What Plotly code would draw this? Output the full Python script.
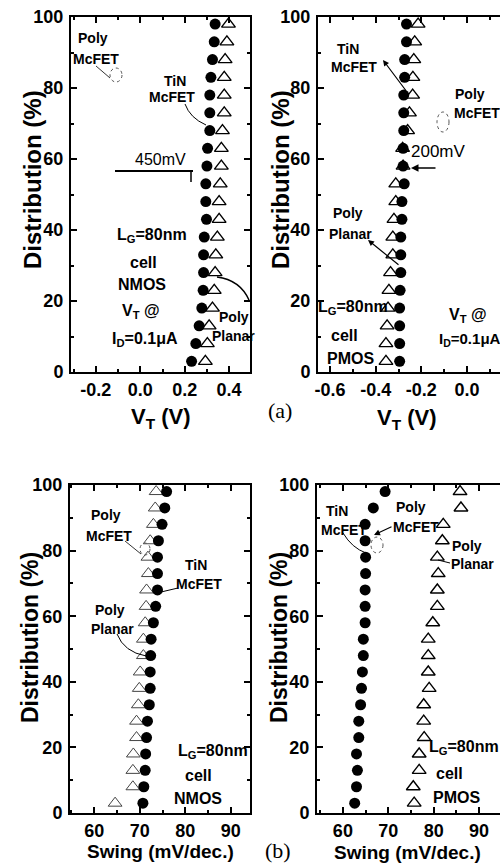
import plotly.graph_objects as go

W, H = 500, 867

# ---------------- data ----------------
dist = [3, 8, 13, 18, 23, 28, 33, 38, 43, 48, 53, 58, 63, 68, 73, 78, 83, 88, 93, 98]

# (a) threshold voltage, NMOS
vt_nmos_tin = [0.231, 0.250, 0.265, 0.277, 0.283, 0.285, 0.285, 0.288, 0.298, 0.295,
               0.295, 0.300, 0.303, 0.313, 0.313, 0.313, 0.318, 0.325, 0.333, 0.337]
vt_nmos_poly = [0.293, 0.302, 0.310, 0.325, 0.333, 0.337, 0.340, 0.347, 0.355, 0.355,
                0.360, 0.365, 0.365, 0.370, 0.378, 0.378, 0.378, 0.382, 0.390, 0.397]
# (a) threshold voltage, PMOS
vt_pmos_tin = [-0.295, -0.295, -0.295, -0.295, -0.293, -0.290, -0.290, -0.290, -0.285, -0.285,
               -0.275, -0.280, -0.280, -0.277, -0.277, -0.277, -0.273, -0.273, -0.265, -0.265]
vt_pmos_poly = [-0.355, -0.355, -0.350, -0.346, -0.342, -0.335, -0.325, -0.325, -0.320, -0.312,
                -0.312, -0.280, -0.282, -0.260, -0.252, -0.238, -0.237, -0.233, -0.229, -0.214]
# (b) subthreshold swing, NMOS
sw_nmos_tin = [70.7, 70.9, 71.2, 71.3, 71.5, 71.7, 72.1, 72.3, 72.3, 72.4,
               72.5, 73.0, 73.5, 73.9, 73.9, 73.9, 74.1, 74.9, 75.5, 75.9]
sw_nmos_poly = [64.6, 68.5, 68.5, 68.6, 69.3, 69.3, 69.7, 69.9, 70.1, 70.8,
                70.8, 71.2, 71.4, 71.5, 71.9, 71.8, 72.3, 73.0, 73.4, 73.6]
# (b) subthreshold swing, PMOS
sw_pmos_tin = [62.6, 63.0, 63.2, 63.0, 63.5, 63.5, 63.9, 64.1, 64.3, 64.5,
               64.5, 64.9, 64.9, 64.9, 65.0, 65.0, 64.9, 64.9, 66.7, 69.3]
sw_pmos_poly = [75.7, 75.5, 76.8, 76.8, 77.9, 77.8, 77.8, 79.0, 78.8, 78.8,
                78.8, 79.8, 80.8, 80.8, 81.0, 80.8, 81.9, 82.1, 86.0, 85.8]

dist_ticks = [0, 20, 40, 60, 80, 100]
dist_ticktext = ["0", "20", "40", "60", "80", "100"]
vtn_ticks = [-0.2, 0.0, 0.2, 0.4]
vtn_ticktext = ["-0.2", "0.0", "0.2", "0.4"]
vtp_ticks = [-0.6, -0.4, -0.2, 0.0]
vtp_ticktext = ["-0.6", "-0.4", "-0.2", "0.0"]
sw_ticks = [60, 70, 80, 90]
sw_ticktext = ["60", "70", "80", "90"]

# ---------------- style ----------------
SANS = "Liberation Sans, Arial, sans-serif"
NARROW = "Liberation Sans Narrow, Liberation Sans, Arial, sans-serif"
SERIF = "Liberation Serif, Times New Roman, serif"


def pxx(x):
    return x / W


def pxy(y):
    return 1 - y / H


fig = go.Figure()


def add_panel(xa, ya, xs_poly, xs_tin, tri_line=1.4, tri_color="black"):
    fig.add_trace(go.Scatter(
        x=xs_poly, y=dist, mode="markers", xaxis=xa, yaxis=ya, showlegend=False,
        marker=dict(symbol="triangle-up", size=12, color="white",
                    line=dict(color=tri_color, width=tri_line))))
    fig.add_trace(go.Scatter(
        x=xs_tin, y=dist, mode="markers", xaxis=xa, yaxis=ya, showlegend=False,
        marker=dict(symbol="circle", size=11, color="black",
                    line=dict(color="black", width=0))))


add_panel("x", "y", vt_nmos_poly, vt_nmos_tin)
add_panel("x2", "y2", vt_pmos_poly, vt_pmos_tin)
add_panel("x3", "y3", sw_nmos_poly, sw_nmos_tin, tri_line=1.0, tri_color="#444")
add_panel("x4", "y4", sw_pmos_poly, sw_pmos_tin)

tickfont = dict(family=SANS, size=18, color="black", weight="bold")


def xaxis(domain, rng, tv, tt, minor_dtick, anchor):
    return dict(domain=domain, range=rng, anchor=anchor, tickmode="array", automargin=False,
                tickvals=tv, ticktext=tt, ticks="inside", ticklen=6, tickwidth=1.5,
                tickcolor="black", showline=True, linewidth=2, linecolor="black",
                mirror="ticks", showgrid=False, zeroline=False, tickfont=tickfont,
                minor=dict(tickmode="linear", tick0=0, dtick=minor_dtick, ticks="inside",
                           ticklen=3, tickwidth=1.5, tickcolor="black"))


def yaxis(domain, anchor, mirror):
    return dict(domain=domain, range=[0, 100], anchor=anchor, tickmode="array",
                automargin=False,
                tickvals=dist_ticks, ticktext=dist_ticktext, ticks="inside", ticklen=6,
                tickwidth=1.5, tickcolor="black", showline=True, linewidth=2,
                linecolor="black", mirror=mirror, showgrid=False, zeroline=False,
                tickfont=tickfont, ticklabelstandoff=2,
                minor=dict(tickmode="linear", tick0=0, dtick=10, ticks="inside",
                           ticklen=3, tickwidth=1.5, tickcolor="black"))


top_dom = [pxy(372), pxy(17)]
bot_dom = [pxy(813), pxy(485)]

layout_axes = dict(
    xaxis=xaxis([pxx(71), pxx(250)], [-0.312, 0.494], vtn_ticks, vtn_ticktext, 0.1, "y"),
    yaxis=yaxis(top_dom, "x", "ticks"),
    xaxis2=xaxis([pxx(318), 1.0], [-0.653, 0.145], vtp_ticks, vtp_ticktext, 0.1, "y2"),
    yaxis2=yaxis(top_dom, "x2", False),
    xaxis3=xaxis([pxx(70), pxx(250)], [54.7, 94.2], sw_ticks, sw_ticktext, 5, "y3"),
    yaxis3=yaxis(bot_dom, "x3", "ticks"),
    xaxis4=xaxis([pxx(317), 1.0], [54.3, 94.6], sw_ticks, sw_ticktext, 5, "y4"),
    yaxis4=yaxis(bot_dom, "x4", False),
)

ann = []


def T(text, x, y, size=14, bold=True, family=NARROW, angle=0):
    ann.append(dict(text=text, x=pxx(x), y=pxy(y), xref="paper", yref="paper",
                    showarrow=False, textangle=angle, xanchor="center", yanchor="middle",
                    font=dict(size=size, family=family, color="black",
                              weight="bold" if bold else "normal")))


def ARROW(hx, hy, tx, ty, width=1.2):
    ann.append(dict(text="", x=pxx(hx), y=pxy(hy), xref="paper", yref="paper",
                    ax=tx - hx, ay=ty - hy, showarrow=True, arrowhead=2, arrowsize=1,
                    arrowwidth=width, arrowcolor="black"))


shapes = []


def LINE(x0, y0, x1, y1, width=1.0, dash="solid", color="black"):
    shapes.append(dict(type="line", xref="paper", yref="paper", x0=pxx(x0), y0=pxy(y0),
                       x1=pxx(x1), y1=pxy(y1), line=dict(color=color, width=width, dash=dash)))


def CURVE(x0, y0, cx, cy, x1, y1, width=1.0, dash="solid", color="black"):
    path = "M %f,%f Q %f,%f %f,%f" % (pxx(x0), pxy(y0), pxx(cx), pxy(cy), pxx(x1), pxy(y1))
    shapes.append(dict(type="path", xref="paper", yref="paper", path=path,
                       line=dict(color=color, width=width, dash=dash)))


def LOOP(cx, cy, rx, ry):
    shapes.append(dict(type="circle", xref="paper", yref="paper",
                       x0=pxx(cx - rx), x1=pxx(cx + rx), y0=pxy(cy + ry), y1=pxy(cy - ry),
                       line=dict(color="#555", width=1, dash="dot")))


# axis titles
T("Distribution (%)", 33, 180, size=24, family=SANS, angle=-90)
T("Distribution (%)", 281, 180, size=24, family=SANS, angle=-90)
T("Distribution (%)", 30, 638, size=23, family=SANS, angle=-90)
T("Distribution (%)", 279, 638, size=23, family=SANS, angle=-90)
T("V<sub>T</sub> (V)", 161, 418, size=22, family=SANS)
T("V<sub>T</sub> (V)", 407, 419, size=22, family=SANS)
T("Swing (mV/dec.)", 160, 851, size=19, family=SANS)
T("Swing (mV/dec.)", 407, 852, size=19, family=SANS)
T("(a)", 280, 410, size=22, bold=False, family=SERIF)
T("(b)", 278, 850, size=22, bold=False, family=SERIF)

# ---- panel (a) NMOS ----
T("Poly", 93, 38)
T("McFET", 96, 59)
LINE(96, 66, 110, 78, width=0.8)
LOOP(116, 75, 6, 7)
T("TiN", 175, 81)
T("McFET", 172, 97)
CURVE(185, 104, 190, 118, 206, 125, width=1.0)
T("450mV", 160, 160, size=16, bold=False)
LINE(115, 171, 193, 171, width=2.2)
LINE(191, 170, 191, 182, width=1.5)
T("L<sub>G</sub>=80nm", 152, 235, size=16, family=SANS)
T("cell", 143, 262, size=16, family=SANS)
T("NMOS", 142, 285, size=16, family=SANS)
T("V<sub>T</sub> @", 141, 311, size=16, family=SANS)
T("I<sub>D</sub>=0.1μA", 145, 340, size=16, family=SANS)
T("Poly", 234, 317)
T("Planar", 233, 336)
CURVE(217, 277, 240, 280, 249, 300, width=1.5)

# ---- panel (a) PMOS ----
T("TiN", 348, 49)
T("McFET", 354, 67)
ARROW(383, 60, 407, 92)
T("Poly", 470, 94)
T("McFET", 477, 113)
LOOP(443, 122, 6, 10)
T("200mV", 438, 151, size=17, bold=False)
ARROW(411, 168, 437, 168, width=1.5)
T("Poly", 348, 213)
T("Planar", 350, 234)
ARROW(368, 240, 400, 266)
T("L<sub>G</sub>=80nm", 353, 307, size=16, family=SANS)
T("cell", 344, 335, size=16, family=SANS)
T("PMOS", 350, 358, size=16, family=SANS)
T("V<sub>T</sub> @", 468, 315, size=16, family=SANS)
T("I<sub>D</sub>=0.1μA", 470, 339, size=15, family=SANS)

# ---- panel (b) NMOS ----
T("Poly", 106, 515)
T("McFET", 109, 536)
LINE(125, 541, 141, 554, width=0.8)
LOOP(145, 549, 5, 6)
T("TiN", 196, 565)
T("McFET", 199, 584)
LINE(178, 588, 161, 592, width=1.0)
T("Poly", 110, 610)
T("Planar", 112, 629)
CURVE(117, 634, 124, 652, 146, 656, width=1.0)
T("L<sub>G</sub>=80nm", 213, 751, size=16, family=SANS)
T("cell", 198, 775, size=16, family=SANS)
T("NMOS", 198, 798, size=16, family=SANS)

# ---- panel (b) PMOS ----
T("TiN", 337, 511)
T("McFET", 344, 530)
CURVE(343, 533, 352, 548, 366, 553, width=1.0)
T("Poly", 411, 507)
T("McFET", 416, 527)
ARROW(374, 535, 393, 526)
LOOP(377, 545, 6, 8)
T("Poly", 467, 546)
T("Planar", 472, 564)
LINE(450, 563, 438, 560, width=1.0)
T("L<sub>G</sub>=80nm", 464, 747, size=16, family=SANS)
T("cell", 449, 773, size=16, family=SANS)
T("PMOS", 456, 797, size=16, family=SANS)

fig.update_layout(
    width=W, height=H, margin=dict(l=0, r=0, t=0, b=0),
    paper_bgcolor="white", plot_bgcolor="white", showlegend=False,
    annotations=ann, shapes=shapes, **layout_axes)

fig.write_html("out.html", config={"displayModeBar": False},
               post_script="document.body.style.margin='0';document.body.style.overflow='hidden';")
